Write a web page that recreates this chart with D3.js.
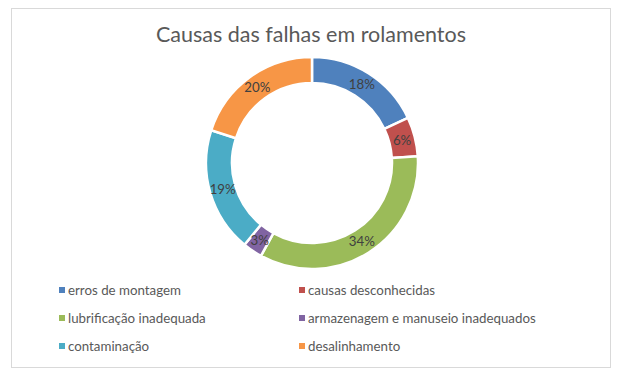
<!DOCTYPE html>
<html><head><meta charset="utf-8">
<script src="https://cdn.jsdelivr.net/npm/d3@7"></script>
<style>body{margin:0;background:#fff;} svg{display:block;}</style>
</head><body>
<svg id="c" width="624" height="380"></svg>
<script>
const title = "Causas das falhas em rolamentos";
const categories = ["erros de montagem","causas desconhecidas","lubrificação inadequada","armazenagem e manuseio inadequados","contaminação","desalinhamento"];
const values = [18, 6, 34, 3, 19, 20];
const colors = ["#4F81BD","#C0504D","#9BBB59","#8064A2","#4BACC6","#F79646"];

const svg = d3.select("#c");
const font = "Lato, 'Liberation Sans', sans-serif";
svg.append("rect").attr("x",11.5).attr("y",8.5).attr("width",599).attr("height",359)
  .attr("fill","#fff").attr("stroke","#d9d9d9").attr("stroke-width",1);

svg.append("text").attr("x",311).attr("y",42).attr("text-anchor","middle")
  .attr("font-family",font).attr("font-size",21.5).attr("fill","#595959").text(title);

const cx = 312, cy = 163, rOuter = 106, rInner = 80;
const total = d3.sum(values);
const pie = d3.pie().sort(null).value(d=>d)(values);
const arc = d3.arc().innerRadius(rInner).outerRadius(rOuter);
const labelArc = d3.arc().innerRadius(93).outerRadius(93);
const g = svg.append("g").attr("transform",`translate(${cx},${cy})`);
g.selectAll("path").data(pie).join("path")
  .attr("d",arc).attr("fill",(d,i)=>colors[i])
  .attr("stroke","#fff").attr("stroke-width",2.5);
g.selectAll("text").data(pie).join("text")
  .attr("transform",d=>`translate(${labelArc.centroid(d)})`)
  .attr("text-anchor","middle").attr("dy","0.35em")
  .attr("font-family",font).attr("font-size",13.3).attr("fill","#404040")
  .text(d=>Math.round(d.data/total*100)+"%");

const legX = [59, 299], legY = [290, 318, 346];
const lg = svg.append("g");
categories.forEach((c,i)=>{
  const x = legX[i%2], y = legY[Math.floor(i/2)];
  lg.append("rect").attr("x",x).attr("y",y-3).attr("width",6).attr("height",6).attr("fill",colors[i]);
  lg.append("text").attr("x",x+9).attr("y",y).attr("dy","0.35em")
    .attr("font-family",font).attr("font-size",13.3).attr("fill","#595959").text(c);
});
</script>
</body></html>
